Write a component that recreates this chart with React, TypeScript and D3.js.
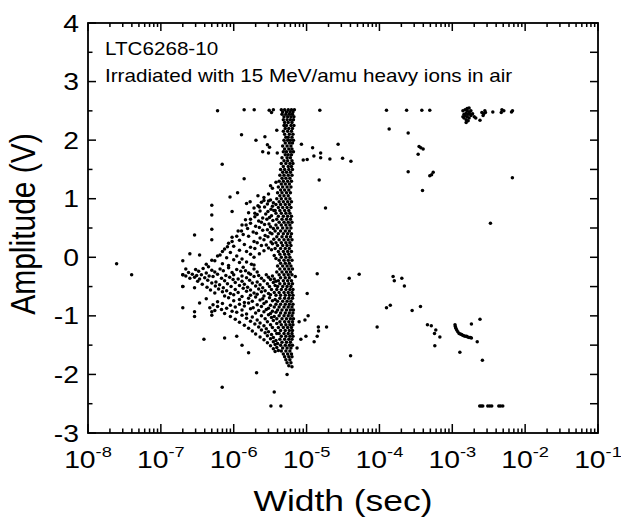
import * as d3 from "d3";
import { useEffect, useRef } from "react";

// every point is [pulse width in microseconds, amplitude in volts]
type Pt = [number, number];

const xTickExps = [-8, -7, -6, -5, -4, -3, -2, -1];
const yTickValues = [-3, -2, -1, 0, 1, 2, 3, 4];

const noteLines = ["LTC6268-10", "Irradiated with 15 MeV/amu heavy ions in air"];

// the dense vertical band around 5 us
const coreBandUs: Pt[] = [
  [4.5, 2.52], [5.0, 2.52], [5.6, 2.52], [6.2, 2.52], [6.8, 2.52],
  [4.7, 2.48], [5.3, 2.48], [5.9, 2.48], [6.5, 2.48],
  [4.6, 2.44], [5.2, 2.44], [5.8, 2.44], [6.4, 2.44],
  [4.9, 2.4], [5.5, 2.4], [6.1, 2.4], [6.7, 2.4],
  [4.8, 2.35], [5.4, 2.35], [6.0, 2.35], [6.6, 2.35],
  [5.0, 2.3], [5.6, 2.3], [6.3, 2.3],
  [4.9, 2.25], [5.3, 2.25], [6.1, 2.25], [6.7, 2.25],
  [5.1, 2.2], [5.7, 2.2], [6.4, 2.2],
  [4.8, 2.15], [5.5, 2.15], [6.2, 2.15],
  [5.0, 2.1], [5.8, 2.1], [6.5, 2.1],
  [5.2, 2.05], [5.6, 2.05], [6.3, 2.05],
  [4.9, 2.0], [5.5, 2.0], [6.0, 2.0], [6.6, 2.0],
  [5.1, 1.95], [5.8, 1.95], [6.4, 1.95],
  [4.7, 1.9], [5.4, 1.9], [6.1, 1.9],
  [5.0, 1.85], [5.7, 1.85], [6.3, 1.85],
  [4.8, 1.8], [5.3, 1.8], [6.0, 1.8], [6.6, 1.8],
  [5.1, 1.75], [5.6, 1.75], [6.2, 1.75],
  [4.6, 1.7], [5.4, 1.7], [6.0, 1.7],
  [4.9, 1.65], [5.5, 1.65], [6.3, 1.65],
  [4.5, 1.6], [5.2, 1.6], [5.9, 1.6], [6.5, 1.6],
  [4.8, 1.55], [5.6, 1.55], [6.2, 1.55],
  [4.4, 1.5], [5.0, 1.5], [5.7, 1.5], [6.4, 1.5],
  [4.7, 1.45], [5.3, 1.45], [6.0, 1.45],
  [4.3, 1.4], [4.9, 1.4], [5.6, 1.4], [6.3, 1.4],
  [4.6, 1.35], [5.2, 1.35], [5.9, 1.35],
  [4.2, 1.3], [4.8, 1.3], [5.5, 1.3], [6.2, 1.3],
  [4.5, 1.25], [5.1, 1.25], [5.8, 1.25],
  [4.1, 1.2], [4.7, 1.2], [5.4, 1.2], [6.1, 1.2],
  [4.4, 1.15], [5.0, 1.15], [5.7, 1.15],
  [4.0, 1.1], [4.6, 1.1], [5.3, 1.1], [6.0, 1.1],
  [4.3, 1.05], [4.9, 1.05], [5.6, 1.05],
  [3.9, 1.0], [4.5, 1.0], [5.2, 1.0], [5.9, 1.0],
  [4.2, 0.95], [4.8, 0.95], [5.5, 0.95], [6.2, 0.95],
  [3.8, 0.9], [4.4, 0.9], [5.1, 0.9], [5.8, 0.9],
  [4.1, 0.85], [4.7, 0.85], [5.4, 0.85], [6.1, 0.85],
  [3.7, 0.8], [4.3, 0.8], [5.0, 0.8], [5.7, 0.8],
  [3.8, 0.75], [4.5, 0.75], [5.2, 0.75], [5.9, 0.75],
  [4.1, 0.7], [4.8, 0.7], [5.5, 0.7], [6.2, 0.7],
  [3.9, 0.65], [4.6, 0.65], [5.3, 0.65], [6.0, 0.65],
  [4.2, 0.6], [4.9, 0.6], [5.6, 0.6], [6.3, 0.6],
  [3.8, 0.55], [4.5, 0.55], [5.2, 0.55], [5.9, 0.55],
  [4.0, 0.5], [4.7, 0.5], [5.4, 0.5], [6.1, 0.5],
  [3.7, 0.45], [4.4, 0.45], [5.1, 0.45], [5.8, 0.45],
  [4.1, 0.4], [4.8, 0.4], [5.5, 0.4], [6.2, 0.4],
  [3.9, 0.35], [4.6, 0.35], [5.3, 0.35], [6.0, 0.35],
  [4.2, 0.3], [4.9, 0.3], [5.6, 0.3], [6.3, 0.3],
  [3.8, 0.25], [4.5, 0.25], [5.2, 0.25], [5.9, 0.25],
  [4.0, 0.2], [4.7, 0.2], [5.4, 0.2], [6.1, 0.2],
  [3.7, 0.15], [4.4, 0.15], [5.1, 0.15], [5.8, 0.15],
  [4.1, 0.1], [4.8, 0.1], [5.5, 0.1], [6.2, 0.1],
  [4.3, 0.05], [5.0, 0.05], [5.7, 0.05],
  [4.5, 0.0], [5.2, 0.0], [5.9, 0.0],
  [4.2, -0.05], [4.9, -0.05], [5.6, -0.05], [6.3, -0.05],
  [4.4, -0.1], [5.1, -0.1], [5.8, -0.1],
  [4.0, -0.15], [4.7, -0.15], [5.4, -0.15], [6.1, -0.15],
  [4.3, -0.2], [5.0, -0.2], [5.7, -0.2], [6.4, -0.2],
  [3.9, -0.25], [4.6, -0.25], [5.3, -0.25], [6.0, -0.25],
  [4.2, -0.3], [4.9, -0.3], [5.6, -0.3], [6.3, -0.3],
  [4.4, -0.35], [5.1, -0.35], [5.8, -0.35],
  [4.1, -0.4], [4.8, -0.4], [5.5, -0.4], [6.2, -0.4],
  [4.3, -0.45], [5.0, -0.45], [5.7, -0.45], [6.4, -0.45],
  [4.0, -0.5], [4.7, -0.5], [5.4, -0.5], [6.1, -0.5],
  [3.9, -0.55], [4.5, -0.55], [5.2, -0.55], [5.9, -0.55], [6.5, -0.55],
  [4.2, -0.6], [4.9, -0.6], [5.6, -0.6], [6.3, -0.6],
  [3.8, -0.65], [4.4, -0.65], [5.1, -0.65], [5.8, -0.65], [6.5, -0.65],
  [4.3, -0.7], [5.0, -0.7], [5.7, -0.7], [6.4, -0.7],
  [4.0, -0.75], [4.7, -0.75], [5.4, -0.75], [6.1, -0.75],
  [4.4, -0.8], [5.1, -0.8], [5.8, -0.8], [6.5, -0.8],
  [4.2, -0.85], [4.9, -0.85], [5.6, -0.85], [6.3, -0.85],
  [4.0, -0.9], [4.6, -0.9], [5.3, -0.9], [6.0, -0.9], [6.6, -0.9],
  [4.4, -0.95], [5.1, -0.95], [5.8, -0.95], [6.5, -0.95],
  [4.2, -1.0], [4.9, -1.0], [5.6, -1.0], [6.3, -1.0],
  [3.9, -1.05], [4.6, -1.05], [5.3, -1.05], [6.0, -1.05], [6.6, -1.05],
  [4.3, -1.1], [5.0, -1.1], [5.7, -1.1], [6.4, -1.1],
  [4.5, -1.15], [5.2, -1.15], [5.9, -1.15], [6.5, -1.15],
  [4.1, -1.2], [4.8, -1.2], [5.5, -1.2], [6.2, -1.2],
  [4.4, -1.25], [5.1, -1.25], [5.8, -1.25], [6.4, -1.25],
  [4.2, -1.3], [4.9, -1.3], [5.6, -1.3], [6.3, -1.3],
  [4.5, -1.35], [5.2, -1.35], [5.9, -1.35], [6.5, -1.35],
  [4.3, -1.4], [5.0, -1.4], [5.7, -1.4], [6.3, -1.4],
  [4.6, -1.45], [5.3, -1.45], [6.0, -1.45],
  [4.4, -1.5], [5.1, -1.5], [5.8, -1.5], [6.4, -1.5],
  [4.7, -1.55], [5.4, -1.55], [6.1, -1.55],
  [4.5, -1.6], [5.2, -1.6], [5.9, -1.6],
  [4.8, -1.65], [5.5, -1.65], [6.2, -1.65],
  [5.0, -1.7], [5.7, -1.7], [6.3, -1.7],
  [5.2, -1.75], [5.9, -1.75],
  [5.4, -1.8], [6.1, -1.8],
  [5.7, -1.85],
];

// the fan of points above the horizontal arm
const upperWedgeUs: Pt[] = [
  [2.6, 1.02], [3.2, 0.98], [2.4, 0.94], [3.0, 0.96], [3.5, 0.93], [2.15, 0.88], [2.9, 0.91], [3.4, 0.87],
  [1.9, 0.84], [2.65, 0.86], [3.25, 0.82], [2.3, 0.79], [2.95, 0.78], [3.55, 0.8], [1.6, 0.76], [2.1, 0.73],
  [2.75, 0.74], [3.3, 0.71], [1.95, 0.69], [2.5, 0.67], [3.1, 0.68], [1.45, 0.64], [2.2, 0.62], [2.85, 0.65],
  [3.45, 0.63], [1.7, 0.58], [2.4, 0.6], [3.05, 0.57], [1.3, 0.55], [2.0, 0.53], [2.65, 0.56], [3.2, 0.52],
  [1.55, 0.49], [2.25, 0.51], [2.9, 0.47], [3.5, 0.49], [1.15, 0.45], [1.85, 0.43], [2.5, 0.46], [3.15, 0.42],
  [1.35, 0.39], [2.05, 0.41], [2.7, 0.37], [3.35, 0.4], [0.95, 0.34], [1.6, 0.36], [2.3, 0.33], [2.95, 0.35],
  [3.55, 0.31], [1.2, 0.29], [1.9, 0.27], [2.6, 0.3], [3.25, 0.26], [0.85, 0.24], [1.4, 0.22], [2.1, 0.25],
  [2.8, 0.21], [3.4, 0.23], [1.0, 0.19], [1.7, 0.17], [2.4, 0.2], [3.0, 0.16], [0.75, 0.14], [1.2, 0.12],
  [1.95, 0.15], [2.6, 0.11], [3.3, 0.13], [0.9, 0.08], [1.5, 0.1], [2.25, 0.06], [0.65, 0.04], [1.1, 0.02],
  [1.7, 0.05], [3.6, 0.03], [0.8, -0.01], [1.3, -0.03], [1.9, 0.0], [3.8, -0.02], [0.55, -0.06], [1.0, -0.04],
  [1.5, -0.08], [0.7, -0.11], [1.2, -0.09], [1.75, -0.12], [0.45, -0.16], [0.85, -0.14], [1.35, -0.17],
  [1.9, -0.13],
  // denser streak along the left edge of the fan
  [0.42, -0.12], [0.5, -0.05], [0.6, 0.02], [0.7, 0.1], [0.82, 0.18], [0.95, 0.27], [1.1, 0.36], [1.28, 0.45],
  [1.48, 0.55], [1.7, 0.65], [1.95, 0.75], [2.25, 0.86], [2.6, 0.97], [3.0, 1.08], [3.4, 1.18], [3.8, 1.28],
];

// the horizontal arm near -0.35 V
const middleBandUs: Pt[] = [
  [0.3, -0.21], [0.38, -0.19], [0.5, -0.22], [0.65, -0.2], [0.85, -0.18], [1.1, -0.21], [1.45, -0.23], [1.9, -0.2],
  [0.24, -0.26], [0.33, -0.24], [0.42, -0.27], [0.55, -0.25], [0.72, -0.23], [0.95, -0.26], [1.25, -0.24],
  [1.6, -0.27], [2.1, -0.25],
  [0.2, -0.3], [0.22, -0.32], [0.27, -0.29], [0.31, -0.31], [0.36, -0.3], [0.46, -0.32], [0.6, -0.29],
  [0.78, -0.31], [1.0, -0.3], [1.3, -0.32], [1.7, -0.29], [2.2, -0.31], [2.8, -0.3], [3.4, -0.32],
  [0.25, -0.36], [0.29, -0.34], [0.34, -0.37], [0.4, -0.35], [0.52, -0.33], [0.68, -0.36], [0.88, -0.34],
  [1.15, -0.37], [1.5, -0.35], [1.9, -0.33], [2.4, -0.36], [3.0, -0.34], [3.6, -0.37],
  [0.32, -0.41], [0.44, -0.39], [0.57, -0.42], [0.75, -0.4], [0.98, -0.38], [1.3, -0.41], [1.65, -0.39],
  [2.1, -0.42], [2.6, -0.4], [3.2, -0.38], [3.8, -0.41],
  [0.37, -0.46], [0.5, -0.44], [0.64, -0.47], [0.82, -0.45], [1.05, -0.43], [1.4, -0.46], [1.8, -0.44],
  [2.3, -0.47], [2.9, -0.45], [3.5, -0.43],
  [0.2, -0.5], [0.43, -0.51], [0.56, -0.49], [0.72, -0.52], [0.92, -0.5], [1.2, -0.48], [1.55, -0.51],
  [2.0, -0.49], [2.5, -0.52], [3.1, -0.5], [3.7, -0.48],
  [0.48, -0.56], [0.62, -0.54], [0.8, -0.57], [1.05, -0.55], [1.35, -0.53], [1.7, -0.56], [2.2, -0.54],
  [2.7, -0.57], [3.3, -0.55],
  [0.55, -0.61], [0.7, -0.59], [0.9, -0.62], [1.15, -0.6], [1.5, -0.58], [1.9, -0.61], [2.4, -0.59],
  [3.0, -0.62], [3.6, -0.6],
  [0.75, -0.66], [1.0, -0.64], [1.3, -0.67], [1.7, -0.65], [2.1, -0.63], [2.6, -0.66], [3.2, -0.64],
];

// the lower arm falling to -1.8 V
const lowerWedgeUs: Pt[] = [
  [0.42, -0.71], [0.85, -0.69], [1.2, -0.72], [1.6, -0.7], [2.0, -0.68], [2.5, -0.71], [3.1, -0.69], [3.7, -0.72],
  [0.6, -0.76], [1.0, -0.74], [1.4, -0.77], [1.8, -0.75], [2.3, -0.73], [2.8, -0.76], [3.4, -0.74],
  [0.52, -0.81], [0.7, -0.79], [0.9, -0.82], [1.2, -0.8], [1.6, -0.78], [2.1, -0.81], [2.6, -0.79],
  [3.2, -0.82], [3.8, -0.8],
  [0.47, -0.86], [0.6, -0.84], [0.8, -0.87], [1.05, -0.85], [1.4, -0.83], [1.85, -0.86], [2.4, -0.84],
  [3.0, -0.87], [3.6, -0.85],
  [0.55, -0.91], [0.68, -0.89], [0.95, -0.92], [1.3, -0.9], [1.7, -0.88], [2.2, -0.91], [2.8, -0.89], [3.4, -0.92],
  [0.75, -0.96], [1.1, -0.94], [1.5, -0.97], [2.0, -0.95], [2.6, -0.93], [3.2, -0.96], [3.8, -0.94],
  [0.9, -1.01], [1.3, -0.99], [1.8, -1.02], [2.4, -1.0], [3.0, -0.98], [3.6, -1.01],
  [1.05, -1.06], [1.5, -1.04], [2.1, -1.07], [2.7, -1.05], [3.3, -1.03],
  [1.2, -1.11], [1.7, -1.09], [2.3, -1.12], [2.9, -1.1], [3.5, -1.08],
  [1.4, -1.16], [1.95, -1.14], [2.6, -1.17], [3.2, -1.15], [3.9, -1.13],
  [1.6, -1.21], [2.2, -1.19], [2.8, -1.22], [3.4, -1.2],
  [1.8, -1.26], [2.4, -1.24], [3.0, -1.27], [3.7, -1.25],
  [2.0, -1.31], [2.7, -1.29], [3.3, -1.32], [3.9, -1.3],
  [2.3, -1.36], [2.9, -1.34], [3.5, -1.37],
  [2.6, -1.41], [3.2, -1.39], [3.8, -1.42],
  [2.9, -1.46], [3.5, -1.44], [4.0, -1.47],
  [3.2, -1.51], [3.7, -1.49],
  [3.5, -1.56], [3.9, -1.54],
  [3.7, -1.61], [4.1, -1.59],
];

// isolated events spread over the plot
const sparseUs: Pt[] = [
  [0.0247, -0.11], [0.0397, -0.3],
  [0.2, -0.06], [0.2, -0.3], [0.2, -0.5], [0.2, -0.86], [0.22, -0.2], [0.25, 0.06], [0.34, 0.04], [0.29, 0.38],
  [0.29, -0.52], [0.29, -0.93], [0.29, -1.01], [0.34, -0.78], [0.39, -1.4],
  [0.5, 0.89], [0.5, 0.72], [0.5, 0.48], [0.5, 0.3], [0.5, -0.93], [0.5, -0.99],
  [0.89, 1.03], [1.13, 1.1], [0.95, 0.78], [1.5, 0.92], [0.75, -1.38], [1.1, -1.35], [1.3, -1.5], [1.6, -1.63],
  [2.06, -1.97], [5.4, -2.0], [6.3, -1.87], [0.695, -2.22], [3.6, -2.3], [3.24, -2.54], [4.44, -2.54],
  [0.695, 1.59], [1.39, 1.34], [1.28, 2.09], [2.02, 2.0], [2.68, 2.06], [2.9, 1.92], [3.1, 1.88], [2.5, 1.8],
  [3.0, 1.78], [3.9, 2.17], [3.96, 1.78], [3.2, 1.22], [1.68, 0.95], [2.15, 1.05],
  [0.6, 2.5], [1.39, 2.52], [1.91, 2.52], [3.07, 2.51], [3.3, 2.47], [3.5, 2.52], [15.2, 2.51],
  [8.5, 1.93], [12.1, 1.87], [27.1, 1.93], [9.0, 1.66], [10.2, 1.67], [12.6, 1.73], [15.6, 1.78], [15.6, 1.7],
  [20.9, 1.68], [31.2, 1.69], [40.6, 1.64], [14.9, 1.32], [18.2, 0.84],
  [7.0, -0.33], [10.2, -0.62], [14.0, -0.28], [38.5, -0.36], [52.7, -0.29],
  [7.9, -1.1], [9.5, -1.07], [10.5, -1.0], [9.8, -1.35], [8.35, -1.4], [12.7, -1.44], [14.0, -1.35],
  [14.6, -1.26], [14.5, -1.19], [18.8, -1.19], [40.2, -1.68], [7.4, -1.55],
  [125, 2.51], [236, 2.51], [382, 2.51], [491, 2.51],
  [136, 2.19], [248, 2.12], [350, 1.89], [398, 1.85], [370, 1.87], [340, 1.76], [248, 1.46], [491, 1.39],
  [547, 1.45], [520, 1.41], [390, 1.14],
  [93, -1.19], [125, -0.86], [141, -0.82], [154, -0.33], [160, -0.4], [203, -0.36], [220, -0.49], [281, -0.91],
  [366, -0.84], [456, -1.15], [515, -1.17], [594, -1.24], [570, -1.3], [675, -1.36], [576, -1.51],
  [1270, -1.62], [1830, -1.14], [2400, -1.06], [2200, -1.44], [2590, -1.76], [3340, 0.58], [6680, 1.36],
];

// the curved trail near 1-2 ms
const msTrailUs: Pt[] = [
  [1090, -1.15], [1100, -1.18], [1120, -1.21], [1150, -1.24], [1190, -1.27], [1240, -1.3], [1290, -1.31],
  [1340, -1.32], [1390, -1.33], [1440, -1.34], [1500, -1.35], [1570, -1.35], [1630, -1.36], [1700, -1.37],
  [1770, -1.37], [1830, -1.38],
];

// saturated group at the top right
const msClusterUs: Pt[] = [
  [1400, 2.5], [1450, 2.44], [1400, 2.4], [1500, 2.52], [1550, 2.46], [1500, 2.42], [1450, 2.38], [1550, 2.35],
  [1600, 2.5], [1650, 2.44], [1600, 2.4], [1650, 2.33], [1700, 2.48], [1750, 2.45], [1700, 2.38], [1800, 2.5],
  [1800, 2.42], [1900, 2.45], [2000, 2.4], [2100, 2.38], [1550, 2.3], [1600, 2.54], [1700, 2.55], [2400, 2.34],
  [2550, 2.47], [2650, 2.42], [2700, 2.45], [2800, 2.5], [2850, 2.47], [3600, 2.48], [4700, 2.47], [4800, 2.52],
  [5100, 2.5], [6700, 2.5], [6500, 2.48],
];

// negative saturation row
const bottomRowUs: Pt[] = [
  [2380, -2.54], [2500, -2.54], [2620, -2.54], [3070, -2.54], [3270, -2.54], [3480, -2.54],
  [4350, -2.54], [4600, -2.54], [4930, -2.54],
];

const FONT = "'Liberation Sans', Arial, Helvetica, sans-serif";
const STRETCH = 1.18;

const App = () => {
  const ref = useRef<SVGSVGElement>(null);
  const outputWidth = 621;
  const outputHeight = 519;

  useEffect(() => {
    const margin = { top: 23, right: 23, bottom: 86, left: 88 };
    const x0 = margin.left,
      x1 = outputWidth - margin.right,
      y0 = margin.top,
      y1 = outputHeight - margin.bottom;

    const svg = d3.select(ref.current);
    svg.selectAll("*").remove();

    const x = d3.scaleLog().domain([1e-8, 1e-1]).range([x0, x1]);
    const y = d3.scaleLinear().domain([-3, 4]).range([y1, y0]);

    const allPoints = [
      ...coreBandUs,
      ...upperWedgeUs,
      ...middleBandUs,
      ...lowerWedgeUs,
      ...sparseUs,
      ...msTrailUs,
      ...msClusterUs,
      ...bottomRowUs,
    ];

    svg
      .append("g")
      .selectAll("circle")
      .data(allPoints)
      .join("circle")
      .attr("cx", (d) => x(d[0] * 1e-6))
      .attr("cy", (d) => y(d[1]))
      .attr("r", 1.75)
      .attr("fill", "#000");

    // ticks, all pointing inward
    const ticks = svg.append("g").attr("stroke", "#000").attr("stroke-width", 1.5);
    const majorX = xTickExps.map((e) => Math.pow(10, e));
    const minorX = x.ticks().filter((v) => Math.abs(Math.log10(v) - Math.round(Math.log10(v))) > 1e-6);

    majorX.forEach((v) => {
      ticks.append("line").attr("x1", x(v)).attr("x2", x(v)).attr("y1", y1).attr("y2", y1 - 9);
      ticks.append("line").attr("x1", x(v)).attr("x2", x(v)).attr("y1", y0).attr("y2", y0 + 8);
    });
    minorX.forEach((v) => {
      ticks.append("line").attr("x1", x(v)).attr("x2", x(v)).attr("y1", y1).attr("y2", y1 - 4.5);
      ticks.append("line").attr("x1", x(v)).attr("x2", x(v)).attr("y1", y0).attr("y2", y0 + 4);
    });

    const minorY = d3.range(-2.5, 4, 1);
    yTickValues.forEach((v) => {
      ticks.append("line").attr("x1", x0).attr("x2", x0 + 8).attr("y1", y(v)).attr("y2", y(v));
      ticks.append("line").attr("x1", x1).attr("x2", x1 - 8).attr("y1", y(v)).attr("y2", y(v));
    });
    minorY.forEach((v) => {
      ticks.append("line").attr("x1", x0).attr("x2", x0 + 4.5).attr("y1", y(v)).attr("y2", y(v));
      ticks.append("line").attr("x1", x1).attr("x2", x1 - 8).attr("y1", y(v)).attr("y2", y(v));
    });

    // frame
    svg
      .append("rect")
      .attr("x", x0)
      .attr("y", y0)
      .attr("width", x1 - x0)
      .attr("height", y1 - y0)
      .attr("fill", "none")
      .attr("stroke", "#000")
      .attr("stroke-width", 1.8);

    // y tick labels
    svg
      .append("g")
      .selectAll("text")
      .data(yTickValues)
      .join("text")
      .attr("transform", (d) => `translate(${x0 - 9},${y(d) + 8.6}) scale(${STRETCH},1)`)
      .attr("text-anchor", "end")
      .attr("font-family", FONT)
      .attr("font-size", 24)
      .text((d) => String(d));

    // x tick labels, 10 with exponent
    const xl = svg
      .append("g")
      .selectAll("text")
      .data(xTickExps)
      .join("text")
      .attr("transform", (d) => `translate(${x(Math.pow(10, d))},468) scale(${STRETCH},1)`)
      .attr("text-anchor", "middle")
      .attr("font-family", FONT)
      .attr("font-size", 24);
    xl.append("tspan").text("10");
    xl.append("tspan").attr("dy", -11).attr("font-size", 15.5).text((d) => String(d));

    // axis titles
    svg
      .append("text")
      .attr("transform", `translate(${(x0 + x1) / 2},511) scale(${STRETCH},1)`)
      .attr("text-anchor", "middle")
      .attr("font-family", FONT)
      .attr("font-size", 30)
      .text("Width (sec)");

    svg
      .append("text")
      .attr("transform", `translate(35,${(y0 + y1) / 2 - 4}) scale(${STRETCH},1) rotate(-90)`)
      .attr("text-anchor", "middle")
      .attr("font-family", FONT)
      .attr("font-size", 30)
      .text("Amplitude (V)");

    // note in the top left corner
    svg
      .append("g")
      .selectAll("text")
      .data(noteLines)
      .join("text")
      .attr("transform", (d, i) => `translate(105,${55 + i * 27}) scale(${STRETCH},1)`)
      .attr("font-family", FONT)
      .attr("font-size", 17.5)
      .text((d) => d);

    // eslint-disable-next-line react-hooks/exhaustive-deps
  }, []);

  return (
    <svg
      ref={ref}
      width={outputWidth}
      height={outputHeight}
      style={{ position: "absolute", left: 0, top: 0, background: "#fff" }}
    />
  );
};

export default App;
